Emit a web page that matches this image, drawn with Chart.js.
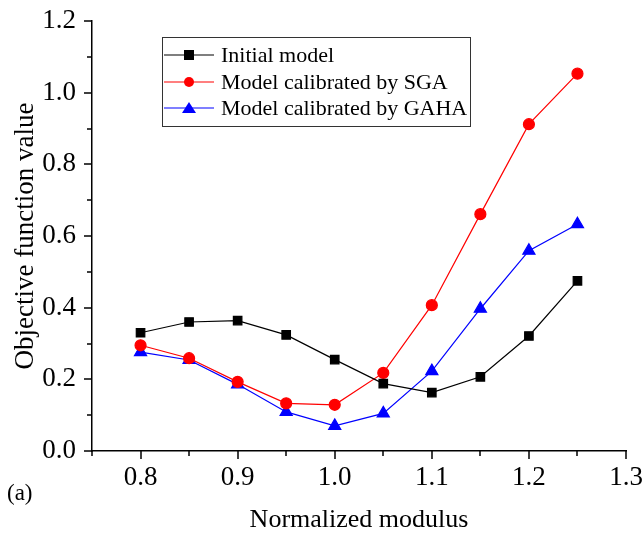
<!DOCTYPE html>
<html>
<head>
<meta charset="utf-8">
<script src="https://cdn.jsdelivr.net/npm/chart.js@4/dist/chart.umd.min.js"></script>
<style>
  html, body { margin: 0; padding: 0; background: #fff; }
  #wrap { width: 644px; height: 533px; }
</style>
</head>
<body>
<div id="wrap"><canvas id="c" width="644" height="533"></canvas></div>
<script>
// Normalized modulus (x) and objective function values for each model
const modulus = [0.80, 0.85, 0.90, 0.95, 1.00, 1.05, 1.10, 1.15, 1.20, 1.25];
const initialModel = [0.330, 0.360, 0.364, 0.324, 0.255, 0.188, 0.163, 0.207, 0.321, 0.475];
const sgaModel     = [0.295, 0.259, 0.193, 0.133, 0.129, 0.218, 0.407, 0.661, 0.912, 1.053];
const gahaModel    = [0.276, 0.254, 0.186, 0.109, 0.070, 0.105, 0.223, 0.397, 0.559, 0.633];
const seriesNames  = ['Initial model', 'Model calibrated by SGA', 'Model calibrated by GAHA'];
const xTicks = [0.8, 0.9, 1.0, 1.1, 1.2, 1.3];
const yTicks = [0.0, 0.2, 0.4, 0.6, 0.8, 1.0, 1.2];

const FONT = '"Liberation Serif", "Times New Roman", serif';

function pts(vals) { return modulus.map((x, i) => ({ x: x, y: vals[i] })); }

// Outward major/minor tick marks, panel label and the framed legend
const decorations = {
  id: 'decorations',
  afterDraw(chart) {
    const ctx = chart.ctx;
    const xs = chart.scales.x, ys = chart.scales.y;
    const area = chart.chartArea;
    ctx.save();
    ctx.strokeStyle = '#000';
    ctx.lineWidth = 1.5;
    ctx.beginPath();
    for (let v = 0.75; v <= 1.3001; v += 0.05) {
      const px = Math.round(xs.getPixelForValue(v));
      const major = Math.abs(v * 10 - Math.round(v * 10)) < 1e-6;
      ctx.moveTo(px, area.bottom);
      ctx.lineTo(px, area.bottom + (major ? 8 : 5));
    }
    for (let v = 0; v <= 1.2001; v += 0.1) {
      const py = Math.round(ys.getPixelForValue(v));
      const major = Math.abs(v * 5 - Math.round(v * 5)) < 1e-6;
      ctx.moveTo(area.left, py);
      ctx.lineTo(area.left - (major ? 8 : 5), py);
    }
    ctx.stroke();

    // panel label
    ctx.fillStyle = '#000';
    ctx.font = '23px ' + FONT;
    ctx.textAlign = 'left';
    ctx.textBaseline = 'middle';
    ctx.fillText('(a)', 7, 494);

    // legend
    const bx = 162, by = 37, bw = 308, bh = 89;
    ctx.lineWidth = 1;
    ctx.strokeStyle = '#333';
    ctx.strokeRect(bx + 0.5, by + 0.5, bw, bh);
    const rows = [55, 82, 108];
    chart.data.datasets.forEach((ds, i) => {
      const y = rows[i];
      ctx.strokeStyle = ds.borderColor;
      ctx.lineWidth = 1.2;
      ctx.beginPath();
      ctx.moveTo(164, y);
      ctx.lineTo(214, y);
      ctx.stroke();
      ctx.fillStyle = ds.pointBackgroundColor;
      ctx.beginPath();
      if (ds.pointStyle === 'rect') {
        ctx.fillRect(189 - 5, y - 5, 10, 10);
      } else if (ds.pointStyle === 'circle') {
        ctx.arc(189, y, 5, 0, Math.PI * 2);
        ctx.fill();
      } else {
        ctx.moveTo(189, y - 6);
        ctx.lineTo(196, y + 5);
        ctx.lineTo(182, y + 5);
        ctx.closePath();
        ctx.fill();
      }
      ctx.fillStyle = '#000';
      ctx.font = '22px ' + FONT;
      ctx.textAlign = 'left';
      ctx.textBaseline = 'middle';
      ctx.fillText(seriesNames[i], 221, y + 1);
    });
    ctx.restore();
  }
};

new Chart(document.getElementById('c'), {
  type: 'line',
  data: {
    datasets: [
      { label: seriesNames[0], data: pts(initialModel), borderColor: '#000000', backgroundColor: '#000000',
        pointBackgroundColor: '#000000', pointBorderColor: '#000000', pointStyle: 'rect', pointRadius: 6, borderWidth: 1.2 },
      { label: seriesNames[1], data: pts(sgaModel), borderColor: '#ff0000', backgroundColor: '#ff0000',
        pointBackgroundColor: '#ff0000', pointBorderColor: '#ff0000', pointStyle: 'circle', pointRadius: 5.5, borderWidth: 1.2 },
      { label: seriesNames[2], data: pts(gahaModel), borderColor: '#0000ff', backgroundColor: '#0000ff',
        pointBackgroundColor: '#0000ff', pointBorderColor: '#0000ff', pointStyle: 'triangle', pointRadius: 7, borderWidth: 1.2 }
    ]
  },
  options: {
    responsive: false,
    animation: false,
    layout: { padding: { top: 21, right: 18, left: 0, bottom: 0 } },
    plugins: { legend: { display: false }, tooltip: { enabled: false } },
    scales: {
      x: {
        type: 'linear', min: 0.75, max: 1.3,
        afterBuildTicks: s => { s.ticks = xTicks.map(v => ({ value: v })); },
        afterFit: s => { s.height = 82; s.paddingLeft = 0; s.paddingRight = 0; },
        grid: { display: false, drawTicks: false },
        border: { display: true, color: '#000', width: 1.5 },
        ticks: { color: '#000', font: { family: FONT, size: 27 }, padding: 11, maxRotation: 0,
                 callback: v => v.toFixed(1) },
        title: { display: true, text: 'Normalized modulus', color: '#000',
                 font: { family: FONT, size: 26 }, padding: { top: 10, bottom: -3 } }
      },
      y: {
        type: 'linear', min: 0, max: 1.2,
        afterBuildTicks: s => { s.ticks = yTicks.map(v => ({ value: v })); },
        afterFit: s => { s.width = 92; s.paddingTop = 0; s.paddingBottom = 0; },
        grid: { display: false, drawTicks: false },
        border: { display: true, color: '#000', width: 1.5 },
        ticks: { color: '#000', font: { family: FONT, size: 27 }, padding: 16,
                 callback: v => v.toFixed(1) },
        title: { display: true, text: 'Objective function value', color: '#000',
                 font: { family: FONT, size: 27 }, padding: { top: 10, bottom: 0 } }
      }
    }
  },
  plugins: [decorations]
});
</script>
</body>
</html>
